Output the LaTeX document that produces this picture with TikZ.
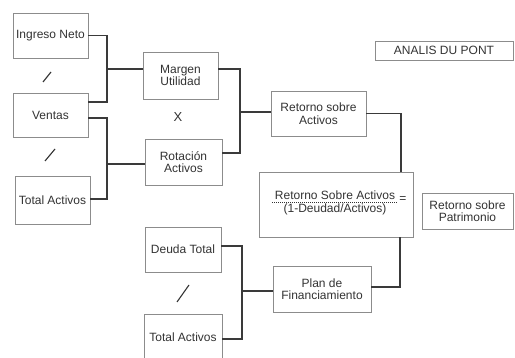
\documentclass[tikz,border=0pt]{standalone}
\usepackage{fontspec}
\setmainfont{Liberation Sans}
\begin{document}
\begin{tikzpicture}[x=1pt,y=-1pt,
  box/.style={draw=boxgray,line width=0.9pt,fill=white,inner sep=1pt,align=center,text=txt,
    font=\fontsize{12}{12.5}\selectfont},
  conn/.style={draw=lin,line width=1.5pt,line cap=butt,line join=miter},
  lbl/.style={text=txt,inner sep=0pt,font=\fontsize{12}{12.5}\selectfont},
  slashline/.style={draw=txt,line width=1.1pt}]
\definecolor{boxgray}{HTML}{8C8C8C}
\definecolor{lin}{HTML}{3A3A3A}
\definecolor{txt}{HTML}{333333}
\useasboundingbox (0,0) rectangle (515,358);
\fill[white] (0,0) rectangle (515,358);

% boxes
\node[box,minimum width=75pt,minimum height=45pt] (ing) at (50.5,35.5) {Ingreso Neto};
\node[box,minimum width=75pt,minimum height=44pt] (ven) at (50.5,115) {Ventas};
\node[box,minimum width=75pt,minimum height=48pt] (ta1) at (52.5,200) {Total Activos};
\node[box,minimum width=75pt,minimum height=47pt] (mar) at (180.5,75.5) {Margen\\Utilidad};
\node[box,minimum width=77pt,minimum height=46pt] (rot) at (183.5,162) {Rotación\\Activos};
\node[box,minimum width=95pt,minimum height=45pt] (rsa) at (318.5,113.5) {Retorno sobre\\Activos};
\node[box,minimum width=154pt,minimum height=65pt] (big) at (336,204.5) {};
\node[box,minimum width=91pt,minimum height=36pt] (rsp) at (467.5,211) {Retorno sobre\\Patrimonio};
\node[box,minimum width=138pt,minimum height=19pt] (adp) at (444,50.5) {ANALIS DU PONT};
\node[box,minimum width=76pt,minimum height=45pt] (deu) at (183,249.5) {Deuda Total};
\node[box,minimum width=78pt,minimum height=46pt] (ta2) at (183,337) {Total Activos};
\node[box,minimum width=98pt,minimum height=46pt] (plan) at (322,289) {Plan de\\Financiamiento};

% contents of the big box
\node[lbl] (num) at (335,195.5) {Retorno Sobre Activos};
\node[lbl] (den) at (335,209) {(1-Deudad/Activos)};
\coordinate (fl) at (272,202);
\coordinate (fr) at (397,202);
\draw[draw=txt,line width=0.6pt,dash pattern=on 1.2pt off 0.8pt] (fl) -- (fr);
\node[lbl] (eq) at (403,200) {=};

% operators
\node[lbl,font=\fontsize{13}{13}\selectfont] (xop) at (178,117) {X};
\coordinate (s1a) at (43,82); \coordinate (s1b) at (51,72);
\draw[slashline] (s1a) -- (s1b);
\coordinate (s2a) at (45,161); \coordinate (s2b) at (55,149);
\draw[slashline] (s2a) -- (s2b);
\coordinate (s3a) at (177,302); \coordinate (s3b) at (189,285);
\draw[slashline] (s3a) -- (s3b);

% connectors
\coordinate (j1) at (107,69);
\draw[conn] (ing.east) -| (j1) |- ([yshift=13pt]ven.east);
\draw[conn] (j1) -- (j1 -| mar.west);
\coordinate (j2) at (107,164);
\draw[conn] ([yshift=-3pt]ven.east) -| (j2) |- ([yshift=1pt]ta1.east);
\draw[conn] (j2) -- (j2 -| rot.west);
\coordinate (j3) at (240,112);
\draw[conn] ([yshift=6.5pt]mar.east) -| (j3) |- ([yshift=9pt]rot.east);
\draw[conn] (j3) -- (j3 -| rsa.west);
\coordinate (j4) at (401,114);
\draw[conn] (rsa.east) -| (j4 |- big.north);
\coordinate (j5) at (242,291);
\draw[conn] ([yshift=3.5pt]deu.east) -| (j5) |- ([yshift=-2pt]ta2.east);
\draw[conn] (j5) -- (j5 -| plan.west);
\coordinate (j6) at (400,287);
\draw[conn] ([yshift=2pt]plan.east) -| (j6 |- big.south);
\end{tikzpicture}
\end{document}
